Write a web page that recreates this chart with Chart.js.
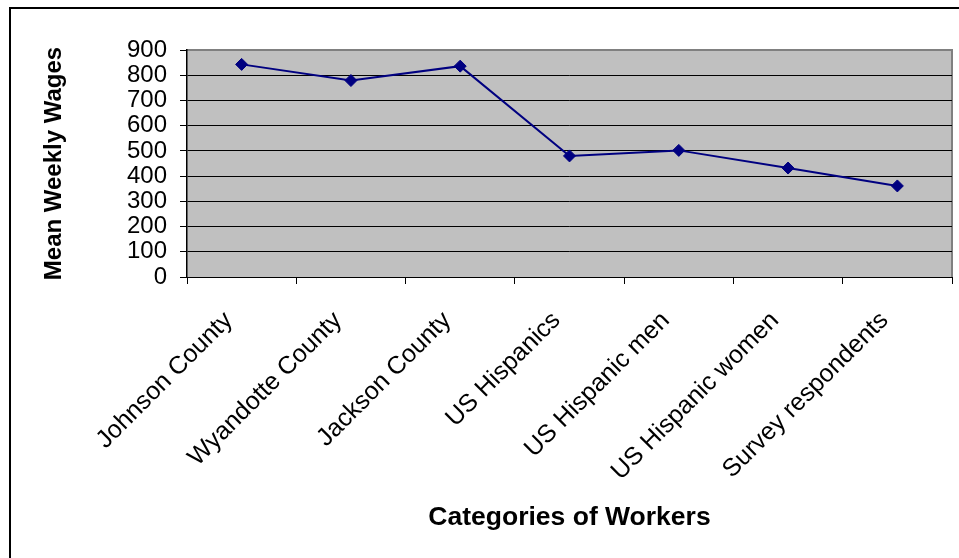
<!DOCTYPE html>
<html>
<head>
<meta charset="utf-8">
<script src="https://cdn.jsdelivr.net/npm/chart.js@4/dist/chart.umd.min.js"></script>
<style>
    html, body { margin: 0; padding: 0; background: #fff; }
    .wrap { position: relative; width: 959px; height: 558px; overflow: hidden; }
    .frame {
        position: absolute; left: 9px; top: 7px; width: 980px; height: 580px;
        border-left: 2px solid #000; border-top: 2px solid #000;
        pointer-events: none;
    }
    canvas { position: absolute; left: 0; top: 0; }
</style>
</head>
<body>
<div class="wrap">
    <canvas id="wagesChart" width="959" height="558"></canvas>
    <div class="frame"></div>
</div>
<script>
const categories = [
    'Johnson County',
    'Wyandotte County',
    'Jackson County',
    'US Hispanics',
    'US Hispanic men',
    'US Hispanic women',
    'Survey respondents'
];
const meanWeeklyWages = [843, 779, 836, 480, 502, 432, 361];
const yTicks = [0, 100, 200, 300, 400, 500, 600, 700, 800, 900];

const FONT = "'Liberation Sans', Arial, sans-serif";

// grey plot area with a grey outline, like the old spreadsheet charts
const plotBackground = {
    id: 'plotBackground',
    beforeDraw(chart) {
        const { ctx, chartArea: a } = chart;
        ctx.save();
        ctx.fillStyle = '#c0c0c0';
        ctx.fillRect(a.left, a.top, a.right - a.left, a.bottom - a.top);
        ctx.strokeStyle = '#808080';
        ctx.lineWidth = 2;
        ctx.beginPath();
        ctx.moveTo(a.left, a.top);
        ctx.lineTo(a.right, a.top);
        ctx.lineTo(a.right, a.bottom);
        ctx.stroke();
        ctx.restore();
    }
};

new Chart(document.getElementById('wagesChart'), {
    type: 'line',
    data: {
        labels: categories,
        datasets: [{
            label: 'Mean Weekly Wages',
            data: meanWeeklyWages,
            borderColor: '#000080',
            backgroundColor: '#000080',
            borderWidth: 2,
            tension: 0,
            fill: false,
            pointStyle: 'rectRot',
            pointRadius: 6,
            pointHoverRadius: 6,
            pointBorderWidth: 1
        }]
    },
    options: {
        responsive: false,
        animation: false,
        layout: { padding: { top: 50, left: 40, right: 6, bottom: 0 } },
        plugins: {
            legend: { display: false },
            tooltip: { enabled: false }
        },
        scales: {
            x: {
                offset: true,
                afterFit: (scale) => { scale.height = 281; },
                grid: {
                    offset: true,
                    drawOnChartArea: false,
                    drawTicks: true,
                    tickLength: 7,
                    tickColor: '#000'
                },
                border: { color: '#000', width: 1 },
                ticks: {
                    color: '#000',
                    font: { family: FONT, size: 25 },
                    minRotation: 45,
                    maxRotation: 45,
                    autoSkip: false,
                    labelOffset: -13,
                    padding: 22
                },
                title: {
                    display: true,
                    text: 'Categories of Workers',
                    color: '#000',
                    font: { family: FONT, size: 26.5, weight: 'bold' },
                    padding: { top: 0, bottom: 24 }
                }
            },
            y: {
                min: 0,
                max: 900,
                afterFit: (scale) => { scale.width = 147; },
                afterBuildTicks: (scale) => {
                    scale.ticks = yTicks.map(v => ({ value: v }));
                },
                grid: {
                    color: (c) => c.tick && c.tick.value === 900 ? '#808080' : '#000',
                    tickColor: '#000',
                    tickLength: 7,
                    lineWidth: 1
                },
                border: { color: '#000', width: 1.5 },
                ticks: {
                    color: '#000',
                    font: { family: FONT, size: 24 },
                    autoSkip: false,
                    padding: 13
                },
                title: {
                    display: true,
                    text: 'Mean Weekly Wages',
                    color: '#000',
                    font: { family: FONT, size: 24, weight: 'bold' },
                    padding: { top: 0, bottom: 0 }
                }
            }
        }
    },
    plugins: [plotBackground]
});
</script>
</body>
</html>
